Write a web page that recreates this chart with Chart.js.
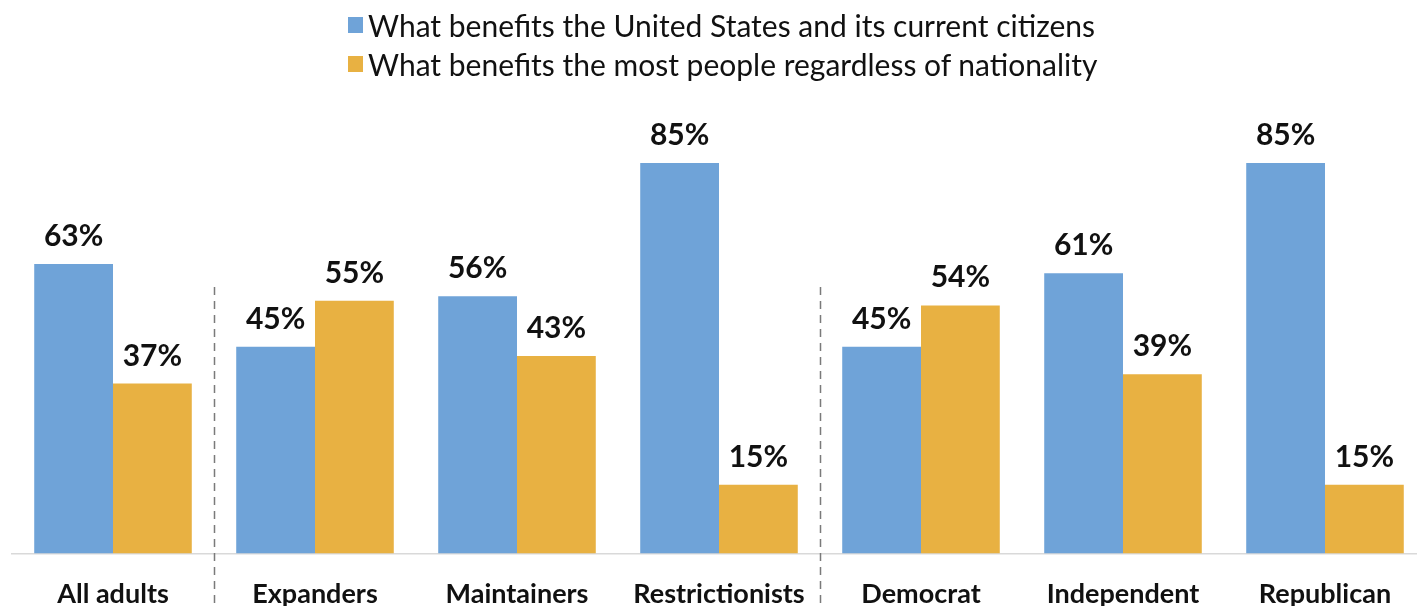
<!DOCTYPE html>
<html>
<head>
<meta charset="utf-8">
<script src="https://cdn.jsdelivr.net/npm/chart.js@4/dist/chart.umd.min.js"></script>
<style>
  html, body { margin:0; padding:0; background:#fff; overflow:hidden; width:1417px; height:606px; }
  #wrap { position:relative; width:1417px; height:606px; overflow:hidden; }
  #c { position:absolute; left:0; top:0; }
  #legend { position:absolute; left:348px; top:5px; font-family: Lato, "Noto Sans", sans-serif; font-size:30px; color:#111; }
  .item { display:flex; align-items:center; height:39px; }
  .box { width:15px; height:16px; margin-right:5px; }
</style>
</head>
<body>
<div id="wrap">
  <canvas id="c" width="1430" height="640"></canvas>
  <div id="legend"></div>
</div>
<script>
const categories = ["All adults", "Expanders", "Maintainers", "Restrictionists", "Democrat", "Independent", "Republican"];
const seriesNames = ["What benefits the United States and its current citizens", "What benefits the most people regardless of nationality"];
const usValues = [63, 45, 56, 85, 45, 61, 85];
const worldValues = [37, 55, 43, 15, 54, 39, 15];
const colors = ["#6FA3D8", "#E8B142"];
const dividerAfter = [0, 3]; // dashed divider after these category indices

const legendEl = document.getElementById('legend');
seriesNames.forEach((n, i) => {
  const d = document.createElement('div'); d.className = 'item';
  const b = document.createElement('div'); b.className = 'box'; b.style.background = colors[i];
  const t = document.createElement('span'); t.textContent = n;
  d.appendChild(b); d.appendChild(t); legendEl.appendChild(d);
});

const labelPlugin = {
  id: 'labels',
  afterDatasetsDraw(chart) {
    const ctx = chart.ctx;
    ctx.save();
    ctx.font = 'bold 30px Lato, "Noto Sans", sans-serif';
    ctx.fillStyle = '#111';
    ctx.textAlign = 'center';
    ctx.textBaseline = 'alphabetic';
    chart.data.datasets.forEach((ds, di) => {
      chart.getDatasetMeta(di).data.forEach((bar, i) => {
        ctx.fillText(ds.data[i] + '%', bar.x, bar.y - 18);
      });
    });
    // dashed dividers
    const xs = chart.scales.x, ys = chart.scales.y;
    ctx.strokeStyle = '#7a7a7a';
    ctx.lineWidth = 1.5;
    ctx.setLineDash([8, 6]);
    dividerAfter.forEach(k => {
      const x = Math.round((xs.getPixelForValue(k) + xs.getPixelForValue(k + 1)) / 2) + 0.5;
      ctx.beginPath();
      ctx.moveTo(x, ys.getPixelForValue(58));
      ctx.lineTo(x, chart.height);
      ctx.stroke();
    });
    ctx.restore();
  }
};

new Chart(document.getElementById('c'), {
  type: 'bar',
  data: {
    labels: categories,
    datasets: [
      { label: seriesNames[0], data: usValues, backgroundColor: colors[0], borderWidth: 0 },
      { label: seriesNames[1], data: worldValues, backgroundColor: colors[1], borderWidth: 0 }
    ]
  },
  options: {
    responsive: false,
    animation: false,
    events: [],
    layout: { padding: { left: 12, right: 4, top: 94, bottom: 6 } },
    plugins: { legend: { display: false }, tooltip: { enabled: false } },
    datasets: { bar: { categoryPercentage: 0.78, barPercentage: 1.0 } },
    scales: {
      x: {
        grid: { display: false, drawTicks: false },
        border: { display: true, color: '#d9d9d9', width: 1.5 },
        ticks: { color: '#111', font: { family: 'Lato, "Noto Sans", sans-serif', size: 27, weight: 'bold' }, padding: 24, maxRotation: 0, autoSkip: false }
      },
      y: { display: false, min: 0, max: 100 }
    }
  },
  plugins: [labelPlugin]
});
</script>
</body>
</html>
